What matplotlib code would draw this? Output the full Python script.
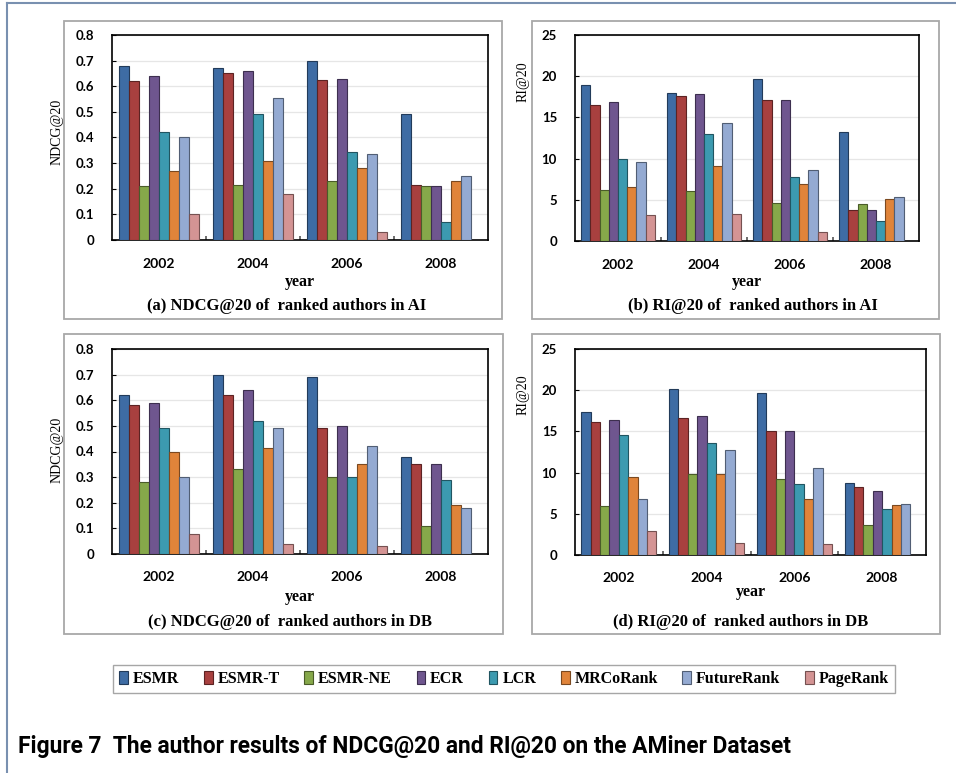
import matplotlib
matplotlib.use("Agg")
import matplotlib.pyplot as plt
import numpy as np
from matplotlib.patches import Patch, Rectangle
from matplotlib.lines import Line2D
from matplotlib.colors import to_rgb

years = ["2002", "2004", "2006", "2008"]
methods = ["ESMR", "ESMR-T", "ESMR-NE", "ECR", "LCR", "MRCoRank", "FutureRank", "PageRank"]

# one row per method, one column per year
ndcg_ai = [
    [0.68, 0.67, 0.70, 0.49],
    [0.62, 0.65, 0.625, 0.215],
    [0.21, 0.215, 0.23, 0.21],
    [0.64, 0.66, 0.63, 0.21],
    [0.42, 0.49, 0.345, 0.07],
    [0.27, 0.31, 0.28, 0.23],
    [0.40, 0.555, 0.335, 0.25],
    [0.10, 0.18, 0.03, 0.0],
]
ri_ai = [
    [18.9, 18.0, 19.7, 13.2],
    [16.5, 17.6, 17.1, 3.8],
    [6.2, 6.1, 4.6, 4.5],
    [16.9, 17.8, 17.1, 3.8],
    [9.9, 13.0, 7.8, 2.4],
    [6.5, 9.1, 6.9, 5.1],
    [9.6, 14.3, 8.6, 5.4],
    [3.2, 3.3, 1.1, 0.0],
]
ndcg_db = [
    [0.62, 0.70, 0.69, 0.38],
    [0.58, 0.62, 0.49, 0.35],
    [0.28, 0.33, 0.30, 0.11],
    [0.59, 0.64, 0.50, 0.35],
    [0.49, 0.52, 0.30, 0.29],
    [0.40, 0.415, 0.35, 0.19],
    [0.30, 0.49, 0.42, 0.18],
    [0.08, 0.04, 0.03, 0.0],
]
ri_db = [
    [17.4, 20.1, 19.6, 8.7],
    [16.2, 16.6, 15.0, 8.2],
    [6.0, 9.8, 9.2, 3.7],
    [16.4, 16.9, 15.1, 7.8],
    [14.6, 13.6, 8.6, 5.6],
    [9.5, 9.8, 6.8, 6.1],
    [6.8, 12.8, 10.6, 6.2],
    [2.9, 1.5, 1.3, 0.0],
]

colors = ["#3E6CA4", "#A8403F", "#86A84A", "#6F568F",
          "#3C9AB0", "#E0843A", "#94AAD2", "#D49494"]

W, H = 956, 773
fig = plt.figure(figsize=(W / 100, H / 100), dpi=100)

serif = ["Liberation Serif", "DejaVu Serif"]
sans = ["Lato", "DejaVu Sans"]


def fx(px):
    return px / W


def fy(py):
    return 1 - py / H


def darker(c, f=0.55):
    r, g, b = to_rgb(c)
    return (r * f, g * f, b * f)


def panel(box, plot, data, ymax, ystep, yfmt, ylabel, ylabel_pos, title, title_x,
          year_y, xlab_y, title_y):
    # grey frame around the panel
    bx0, by0, bx1, by1 = box
    fig.patches.append(Rectangle((fx(bx0), fy(by1)), fx(bx1 - bx0), (by1 - by0) / H,
                                 transform=fig.transFigure, fill=False,
                                 edgecolor="#a8a8a8", linewidth=1.3))
    x0, y0, x1, y1 = plot
    ax = fig.add_axes([fx(x0), fy(y1), fx(x1 - x0), (y1 - y0) / H])
    n = len(methods)
    width = 0.107
    x = np.arange(len(years))
    for i, (m, c) in enumerate(zip(methods, colors)):
        off = (i - (n - 1) / 2) * width
        vals = np.array(data[i])
        keep = vals > 0
        ax.bar(x[keep] + off, vals[keep], width, color=c, edgecolor=darker(c),
               linewidth=0.8, zorder=3)
    ax.set_xlim(-0.5, len(years) - 0.5)
    ax.set_ylim(0, ymax)
    ticks = np.arange(0, ymax + ystep / 2, ystep)
    ax.set_yticks(ticks)
    ax.set_yticklabels([yfmt(t) for t in ticks], fontfamily=sans,
                       fontweight="bold", fontsize=9.5)
    ax.yaxis.grid(True, color="#e6e6e6", linewidth=0.9, zorder=0)
    ax.set_axisbelow(True)
    ax.tick_params(axis="y", direction="in", length=3, width=0.8, pad=13)
    ax.set_xticks(np.arange(0.5, len(years) - 0.5))
    ax.set_xticklabels([])
    ax.tick_params(axis="x", direction="in", length=3, width=1.2, color="#555555")
    for s in ax.spines.values():
        s.set_linewidth(1.2)
        s.set_color("black")
    # year labels below the axis
    for xi, yr in zip(x, years):
        xp = x0 + (xi + 0.5) / len(years) * (x1 - x0)
        fig.text(fx(xp), fy(year_y), yr, ha="center", va="center",
                 fontfamily=sans, fontweight="bold", fontsize=10)
    fig.text(fx((x0 + x1) / 2), fy(xlab_y), "year", ha="center", va="center",
             fontfamily=serif, fontweight="bold", fontsize=11.5)
    fig.text(fx(title_x), fy(title_y), title, ha="center", va="center",
             fontfamily=serif, fontweight="bold", fontsize=12)
    fig.text(fx(ylabel_pos[0]), fy(ylabel_pos[1]), ylabel, ha="center", va="center",
             rotation=90, fontfamily=serif, fontsize=10)
    return ax


def ndcg_fmt(t):
    return "0" if t == 0 else f"{t:.1f}"


def ri_fmt(t):
    return f"{t:.0f}"


panel((64, 21, 502, 319), (112, 35, 488, 240), ndcg_ai, 0.8, 0.1, ndcg_fmt,
      "NDCG@20", (57, 132), "(a) NDCG@20 of  ranked authors in AI", 287, 264, 282, 306)
panel((532, 21, 939, 319), (575, 35, 919, 241), ri_ai, 25, 5, ri_fmt,
      "RI@20", (523, 82), "(b) RI@20 of  ranked authors in AI", 753, 265, 282, 306)
panel((64, 334, 503, 634), (112, 349, 488, 554), ndcg_db, 0.8, 0.1, ndcg_fmt,
      "NDCG@20", (57, 450), "(c) NDCG@20 of  ranked authors in DB", 290, 577, 597, 622)
panel((532, 334, 940, 634), (575, 349, 926, 555), ri_db, 25, 5, ri_fmt,
      "RI@20", (523, 395), "(d) RI@20 of  ranked authors in DB", 741, 578, 592, 622)

# shared legend
handles = [Patch(facecolor=c, edgecolor=darker(c), linewidth=0.8) for c in colors]
leg = fig.legend(handles, methods, loc="center", bbox_to_anchor=(fx(504), fy(679)),
                 ncol=len(methods), frameon=True, fancybox=False,
                 prop={"family": serif, "weight": "bold", "size": 11.5},
                 handlelength=0.55, handleheight=0.8, handletextpad=0.3,
                 columnspacing=1.55, borderpad=0.4)
leg.get_frame().set_edgecolor("#909090")
leg.get_frame().set_linewidth(1.0)

# caption
fig.text(fx(18), fy(747), "Figure 7  The author results of NDCG@20 and RI@20 on the AMiner Dataset",
         ha="left", va="center", fontfamily=["Roboto", "DejaVu Sans"],
         fontweight="bold", fontsize=16.4)

# page frame lines
fig.lines.append(Line2D([fx(7), 1], [fy(3), fy(3)], transform=fig.transFigure,
                        color="#7990b0", linewidth=1.5))
fig.lines.append(Line2D([fx(7), fx(7)], [fy(3), 0], transform=fig.transFigure,
                        color="#7990b0", linewidth=1.5))

fig.savefig("out.png", dpi=100)
